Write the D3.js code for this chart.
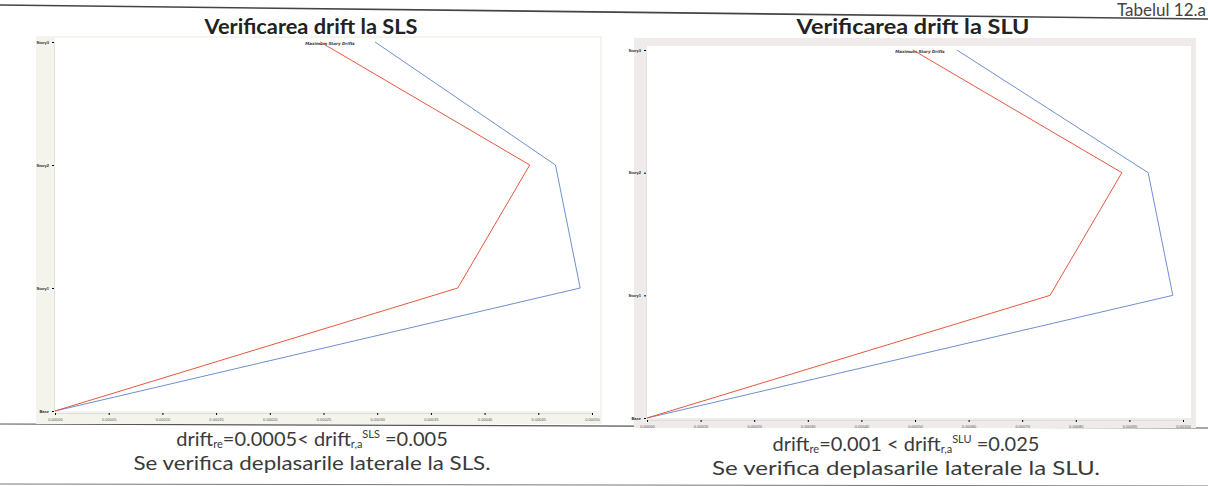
<!DOCTYPE html>
<html>
<head>
<meta charset="utf-8">
<script src="https://cdn.jsdelivr.net/npm/d3@7"></script>
<style>
  body { margin: 0; background: #fff; }
  svg { display: block; }
</style>
</head>
<body>
<div id="chart"></div>
<script>
// story levels (bottom to top)
const stories = ["Base", "Story1", "Story2", "Story3"];

// SLS drifts
const slsBlue = [0, 0.000489, 0.000466, 0.000298];
const slsRed  = [0, 0.000375, 0.000442, 0.000247];
const slsTicks = d3.range(0, 11).map(i => i * 0.00005);

// SLU drifts
const sluBlue = [0, 0.000981, 0.000935, 0.000578];
const sluRed  = [0, 0.000752, 0.000886, 0.000496];
const sluTicks = d3.range(0, 11).map(i => i * 0.0001);

const W = 1208, H = 486;
const svg = d3.select("#chart").append("svg")
    .attr("width", W).attr("height", H);

// scanned table rules
svg.append("line").attr("x1", 0).attr("y1", 5).attr("x2", W).attr("y2", 19)
    .attr("stroke", "#444").attr("stroke-width", 1.6);
svg.append("line").attr("x1", 0).attr("y1", 424).attr("x2", W).attr("y2", 428)
    .attr("stroke", "#555").attr("stroke-width", 1.2);
svg.append("line").attr("x1", 0).attr("y1", 484).attr("x2", W).attr("y2", 486)
    .attr("stroke", "#777").attr("stroke-width", 1);

svg.append("text")
    .attr("x", 1206).attr("y", 16)
    .attr("text-anchor", "end")
    .style("font-family", "Lato, sans-serif")
    .style("font-size", "17px")
    .attr("fill", "#444")
    .text("Tabelul 12.a");

function drawPanel(opt) {
    const g = svg.append("g");

    // ETABS-like frame
    g.append("rect")
        .attr("x", opt.frame[0]).attr("y", opt.frame[1])
        .attr("width", opt.frame[2]).attr("height", opt.frame[3])
        .attr("fill", opt.frameFill);

    const x = d3.scaleLinear().domain(opt.xDomain).range(opt.xRange);
    const y = d3.scaleLinear().domain([0, stories.length - 1]).range(opt.yRange);

    g.append("rect")
        .attr("x", opt.xRange[0]).attr("y", opt.yRange[1] - 4)
        .attr("width", opt.xRange[1] - opt.xRange[0] + 8)
        .attr("height", opt.yRange[0] - opt.yRange[1] + 4)
        .attr("fill", "#fff");

    // title of the embedded chart
    g.append("text")
        .attr("x", opt.titleX).attr("y", opt.yRange[1] + 3)
        .attr("text-anchor", "middle")
        .style("font-family", "DejaVu Sans, sans-serif")
        .style("font-size", "4px")
        .style("font-weight", "700")
        .style("font-style", "italic")
        .attr("fill", "#333")
        .text("Maximum Story Drifts");

    // axes
    const xAxis = d3.axisBottom(x).tickValues(opt.ticks)
        .tickSize(2).tickFormat(d3.format(".5f"));
    const xa = g.append("g")
        .attr("transform", `translate(0,${opt.yRange[0] + 2})`)
        .call(xAxis);
    xa.select(".domain").attr("stroke", "#ddd");
    xa.selectAll("text").style("font-size", "4px").attr("fill", "#555");

    const yAxis = d3.axisLeft(y)
        .tickValues(d3.range(stories.length))
        .tickSize(2).tickFormat(i => stories[i]);
    const ya = g.append("g")
        .attr("transform", `translate(${opt.xRange[0] - 1},0)`)
        .call(yAxis);
    ya.select(".domain").attr("stroke", "#e4e4dc");
    ya.selectAll("text").style("font-size", "4px")
        .style("font-weight", "700").attr("fill", "#222");

    const line = d3.line()
        .x(d => x(d))
        .y((d, i) => y(i));

    g.append("path").datum(opt.blue)
        .attr("d", line).attr("fill", "none")
        .attr("stroke", "#6f8fcc").attr("stroke-width", 1);
    g.append("path").datum(opt.red)
        .attr("d", line).attr("fill", "none")
        .attr("stroke", "#e4583f").attr("stroke-width", 1);

    // heading above the chart
    svg.append("text")
        .attr("x", opt.headX).attr("y", 34)
        .attr("text-anchor", "middle")
        .style("font-family", "Lato, sans-serif")
        .style("font-size", opt.headSize + "px")
        .style("font-weight", "700")
        .attr("fill", "#222")
        .attr("textLength", opt.headLen)
        .attr("lengthAdjust", "spacingAndGlyphs")
        .text(opt.heading);

    // caption under the chart
    const cap = svg.append("text")
        .attr("x", opt.capX).attr("y", opt.capY)
        .attr("text-anchor", "middle")
        .style("font-family", "Lato, sans-serif")
        .style("font-size", "20px")
        .attr("fill", "#3a3a3a");
    cap.append("tspan").text("drift");
    cap.append("tspan").attr("dy", 2).style("font-size", "11px").text("re");
    cap.append("tspan").attr("dy", -2).text(opt.val1);
    cap.append("tspan").text(" drift");
    cap.append("tspan").attr("dy", 2).style("font-size", "11px").text("r,a");
    cap.append("tspan").attr("dy", -10).style("font-size", "11px").text(opt.state);
    cap.append("tspan").attr("dy", 8).text(" =" + opt.val2);

    svg.append("text")
        .attr("x", opt.capX).attr("y", opt.capY + 24)
        .attr("text-anchor", "middle")
        .style("font-family", "Lato, sans-serif")
        .style("font-size", "19px")
        .attr("fill", "#3a3a3a")
        .attr("textLength", opt.capLen)
        .attr("lengthAdjust", "spacingAndGlyphs")
        .text(`Se verifica deplasarile laterale la ${opt.state}.`);
}

drawPanel({
    frame: [36, 36, 566, 388], frameFill: "#f4f4ec",
    xDomain: [0, 0.0005], xRange: [55, 592], yRange: [411, 42],
    ticks: slsTicks, blue: slsBlue, red: slsRed,
    titleX: 330, headX: 311, headSize: 20, headLen: 213,
    heading: "Verificarea drift la SLS",
    capX: 312, capY: 446, capLen: 357, val1: "=0.0005<", val2: "0.005", state: "SLS"
});

drawPanel({
    frame: [634, 38, 562, 390], frameFill: "#efebea",
    xDomain: [0, 0.001], xRange: [647, 1183], yRange: [418, 50],
    ticks: sluTicks, blue: sluBlue, red: sluRed,
    titleX: 920, headX: 913, headSize: 21, headLen: 233,
    heading: "Verificarea drift la SLU",
    capX: 906, capY: 451, capLen: 388, val1: "=0.001 <", val2: "0.025", state: "SLU"
});
</script>
</body>
</html>
